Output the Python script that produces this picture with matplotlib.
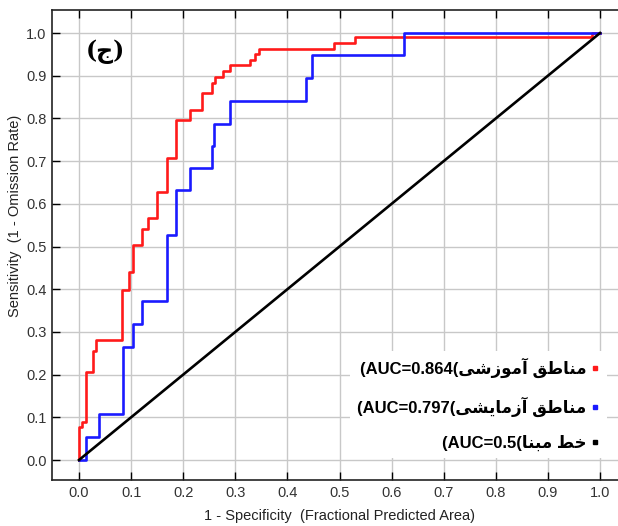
import matplotlib
matplotlib.use("Agg")
import matplotlib.pyplot as plt
from matplotlib.lines import Line2D

# ---- data ----
train_fpr = [0.0, 0.0, 0.006, 0.013, 0.026, 0.033, 0.083, 0.096, 0.104, 0.121, 0.132,
             0.149, 0.168, 0.186, 0.214, 0.237, 0.255, 0.261, 0.277, 0.290, 0.328,
             0.338, 0.346, 0.489, 0.530, 0.984, 1.0]
train_tpr = [0.0, 0.077, 0.090, 0.207, 0.256, 0.281, 0.398, 0.441, 0.503, 0.540, 0.566,
             0.628, 0.707, 0.796, 0.820, 0.860, 0.884, 0.896, 0.910, 0.925, 0.937,
             0.952, 0.962, 0.977, 0.990, 1.0, 1.0]
test_fpr = [0.0, 0.013, 0.039, 0.084, 0.104, 0.120, 0.168, 0.186, 0.213, 0.255, 0.260,
            0.290, 0.435, 0.448, 0.623, 1.0]
test_tpr = [0.0, 0.055, 0.108, 0.265, 0.318, 0.372, 0.527, 0.632, 0.684, 0.735, 0.788,
            0.841, 0.894, 0.948, 1.0, 1.0]
base_x = [0.0, 1.0]
base_y = [0.0, 1.0]
ticks = [0.0, 0.1, 0.2, 0.3, 0.4, 0.5, 0.6, 0.7, 0.8, 0.9, 1.0]
tick_labels = ["0.0", "0.1", "0.2", "0.3", "0.4", "0.5", "0.6", "0.7", "0.8", "0.9", "1.0"]

# Persian labels in visual (left-to-right) order using presentation forms
w_manategh = "\uFED6\uFEC3\uFE8E\uFEE8\uFEE3"            # مناطق
w_amoozeshi = "\uFEF0\uFEB7\uFEAF\uFEEE\uFEE3\uFE81"     # آموزشی
w_azmayeshi = "\uFEF0\uFEB8\uFEF3\uFE8E\uFEE3\uFEAF\uFE81"  # آزمایشی
w_khat = "\uFEC2\uFEA7"                                   # خط
w_mabna = "\uFE8E\uFEE8\uFE92\uFEE3"                      # مبنا
labels = [
    "(AUC=0.864(" + w_amoozeshi + " " + w_manategh,
    "(AUC=0.797(" + w_azmayeshi + " " + w_manategh,
    "(AUC=0.5(" + w_mabna + " " + w_khat,
]
panel_label = "(\uFE9D)"  # (ج)

W, H = 618, 526
fig = plt.figure(figsize=(W / 100, H / 100), dpi=100)
ax = fig.add_axes([52 / W, 46 / H, (W - 52) / W, 470 / H])

red = "#ff1a1a"
blue = "#1a1aff"
ax.plot(train_fpr, train_tpr, drawstyle="steps-post", color=red, lw=1.9, zorder=3)
ax.plot(test_fpr, test_tpr, drawstyle="steps-post", color=blue, lw=1.9, zorder=3)
ax.plot(base_x, base_y, color="black", lw=1.9, zorder=4)

ax.set_xlim(-0.0518, 1.0345)
ax.set_ylim(-0.0468, 1.0539)
ax.set_xticks(ticks)
ax.set_yticks(ticks)
ax.set_xticklabels(tick_labels)
ax.set_yticklabels(tick_labels)
ax.grid(True, color="#c8c8c8", lw=1.0)
ax.set_axisbelow(True)
ax.tick_params(direction="in", length=6, width=1, top=True, right=False,
               labelsize=10.5, labelcolor="#333333", pad=4)
for lab in ax.get_xticklabels() + ax.get_yticklabels():
    lab.set_family(["Liberation Sans", "DejaVu Sans"])
ax.spines["right"].set_visible(False)
for s in ["left", "bottom", "top"]:
    ax.spines[s].set_linewidth(1.2)
    ax.spines[s].set_color("#222222")

fig.text(339 / W, 1 - 516 / H, "1 - Specificity  (Fractional Predicted Area)",
         ha="center", va="center", fontsize=10.5, color="#222222",
         family=["Liberation Sans", "DejaVu Sans"])
fig.text(15 / W, 1 - 216 / H, "Sensitivity  (1 - Omission Rate)", rotation=90,
         ha="center", va="center", fontsize=10.5, color="#222222",
         family=["Liberation Sans", "DejaVu Sans"])

ax.text((105 - 52) / 566, (480 - 52) / 470, panel_label, transform=ax.transAxes,
        ha="center", va="center", fontsize=17, fontweight="bold",
        family=["DejaVu Serif", "DejaVu Sans"])

handles = [Line2D([], [], ls="none", marker="s", ms=3.5, color=c) for c in (red, blue, "black")]
leg = ax.legend(handles, labels, loc="lower right",
                bbox_to_anchor=((607 - 52) / 566, (480 - 458) / 470),
                borderaxespad=0, markerfirst=False, frameon=True, fancybox=False,
                handlelength=0.6, handletextpad=0.25, labelspacing=1.1, borderpad=0.4,
                prop={"family": ["Liberation Sans", "DejaVu Sans"], "weight": "bold", "size": 12})
leg.get_frame().set_facecolor("white")
leg.get_frame().set_edgecolor("none")
leg.get_frame().set_alpha(1)
for t in leg.get_texts():
    t.set_ha("right")

fig.savefig("out.png", dpi=100)
